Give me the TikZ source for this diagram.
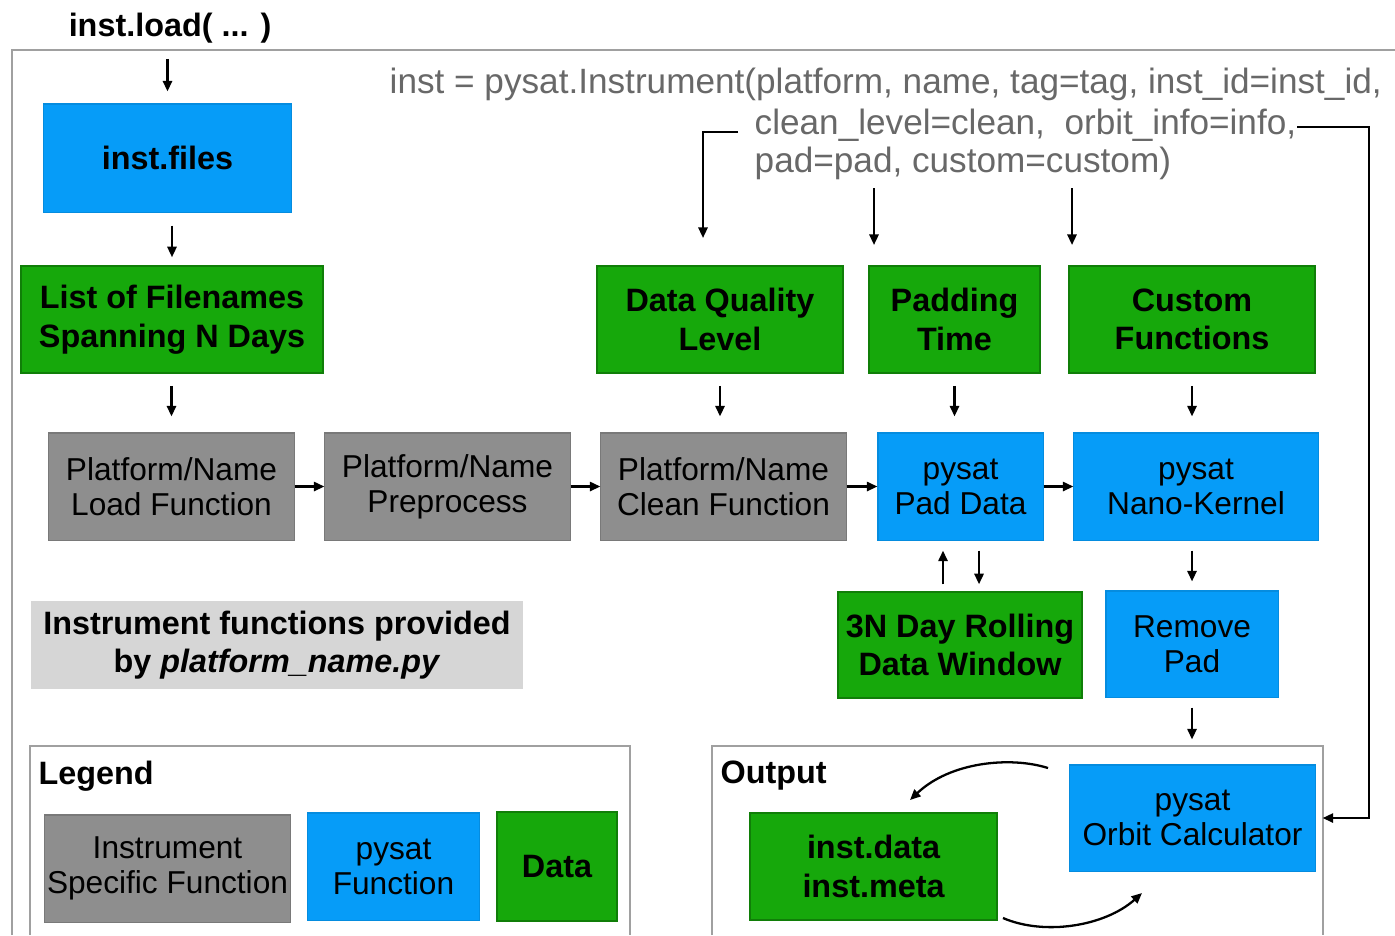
\documentclass[tikz,border=0pt]{standalone}
\usepackage{fontspec}
\setmainfont{Liberation Sans}
\usetikzlibrary{arrows.meta, positioning, calc}
\definecolor{pyblue}{HTML}{069CF8}
\definecolor{pygreen}{HTML}{16A80B}
\definecolor{pygray}{HTML}{8E8E8E}
\definecolor{pylightgray}{HTML}{D6D6D6}
\definecolor{pytext}{HTML}{686868}
\definecolor{pyframe}{HTML}{A0A0A0}

\begin{document}
\begin{tikzpicture}[x=0.01cm, y=-0.01cm,
        box/.style={rectangle, minimum height=1.07cm, inner sep=0pt,
                    align=center, font=\fontsize{9}{10}\selectfont},
        funcbox/.style={box, fill=pygray, draw=pygray!85!black,
                        line width=0.3pt},
        pybox/.style={box, fill=pyblue, draw=pyblue!90!black,
                      line width=0.3pt},
        databox/.style={box, fill=pygreen, draw=pygreen!75!black,
                        line width=0.4pt,
                        font=\fontsize{9.2}{11}\selectfont\bfseries},
        code/.style={anchor=west, inner sep=0pt, text=pytext,
                     font=\fontsize{10}{11}\selectfont},
        title/.style={anchor=west, inner sep=0pt,
                      font=\fontsize{9.2}{10}\selectfont\bfseries},
        frame/.style={draw=pyframe, line width=0.6pt},
        arr/.style={-{Triangle[length=3pt, width=2.6pt]},
                    line width=0.65pt, black}
      ]
        \useasboundingbox (0,0) rectangle (1395,935);
        % Outer frame
        \draw[frame] (12,935) -- (12,50) -- (1395,50);
        \node[title, anchor=center] (loadcall) at (170,28) {inst.load( ... )};
        % Instrument call
        \node[code] (call1) at (389,84)
          {inst = pysat.Instrument(platform, name, tag=tag, inst\_id=inst\_id,};
        \node[code] (call2) at (754,125)
          {clean\_level=clean,\ \ orbit\_info=info,};
        \node[code] (call3) at (754,163) {pad=pad, custom=custom)};
        % Left column
        \node[pybox, font=\fontsize{9.2}{10}\selectfont\bfseries,
              minimum width=2.47cm, minimum height=1.08cm] (files) at (167.5,158) {inst.files};
        \node[databox, minimum width=3.02cm] (names) at (172,319.5)
          {List of Filenames\\Spanning N Days};
        % Keyword data
        \node[databox, minimum width=2.46cm] (quality) at (720,319.5)
          {Data Quality\\Level};
        \node[databox, minimum width=1.71cm] (padtime) at (954.5,319.5)
          {Padding\\Time};
        \node[databox, minimum width=2.46cm] (custom) at (1192,319.5)
          {Custom\\Functions};
        % Processing chain
        \node[funcbox, minimum width=2.45cm] (load) at (171.5,486.5)
          {Platform/Name\\Load Function};
        \node[funcbox, minimum width=2.45cm] (prep) at (447.5,486.5)
          {Platform/Name\\Preprocess};
        \node[funcbox, minimum width=2.45cm] (clean) at (723.5,486.5)
          {Platform/Name\\Clean Function};
        \node[pybox, minimum width=1.65cm] (paddata) at (960.5,486.5)
          {pysat\\Pad Data};
        \node[pybox, minimum width=2.44cm] (nano) at (1196,486.5)
          {pysat\\Nano-Kernel};
        \node[databox, minimum width=2.44cm, minimum height=1.06cm] (rolling) at (960,645)
          {3N Day Rolling\\Data Window};
        \node[pybox, minimum width=1.72cm, minimum height=1.06cm] (remove) at (1192,644)
          {Remove\\Pad};
        \node[box, fill=pylightgray, minimum width=4.92cm, minimum height=0.88cm,
              font=\fontsize{9.2}{11}\selectfont\bfseries] (provided) at (277,645)
          {Instrument functions provided\\by \textit{platform\_name.py}};
        % Legend
        \draw[frame, line width=0.5pt] (30,935) -- (30,746) -- (630,746) -- (630,935);
        \node[title] (legend) at (38,776) {Legend};
        \node[funcbox, minimum width=2.45cm] (leggray) at (167.5,868.5)
          {Instrument\\Specific Function};
        \node[pybox, minimum width=1.71cm] (legblue) at (393.5,866.5)
          {pysat\\Function};
        \node[databox, minimum width=1.2cm, minimum height=1.09cm] (leggreen) at (557,866.5)
          {Data};
        % Output
        \draw[frame, line width=0.5pt] (712,935) -- (712,746) -- (1323,746) -- (1323,935);
        \node[title] (output) at (720,776) {Output};
        \node[pybox, minimum width=2.45cm, minimum height=1.06cm] (orbit) at (1192.5,818)
          {pysat\\Orbit Calculator};
        \node[databox, minimum width=2.47cm] (instdata) at (873.5,866.5)
          {inst.data\\inst.meta};
        % Connections: vertical flow
        \draw[arr, shorten <=0.15cm, shorten >=0.12cm] (loadcall.south -| files.north) -- (files.north);
        \draw[arr, shorten <=0.13cm, shorten >=0.08cm] (names.north |- files.south) -- (names.north);
        \draw[arr, shorten <=0.12cm, shorten >=0.16cm] (load.north |- names.south) -- (load.north);
        \draw[arr, shorten <=0.12cm, shorten >=0.16cm] (quality.south) -- (quality.south |- clean.north);
        \draw[arr, shorten <=0.12cm, shorten >=0.16cm] (padtime.south) -- (padtime.south |- paddata.north);
        \draw[arr, shorten <=0.12cm, shorten >=0.16cm] (custom.south) -- (custom.south |- nano.north);
        % Connections: processing chain
        \draw[arr] (load) -- (prep);
        \draw[arr] (prep) -- (clean);
        \draw[arr] (clean) -- (paddata);
        \draw[arr] (paddata) -- (nano);
        \draw[arr, shorten <=0.07cm, shorten >=0.1cm] ([xshift=-0.17cm]rolling.north) -- ([xshift=-0.17cm]rolling.north |- paddata.south);
        \draw[arr, shorten <=0.1cm, shorten >=0.07cm] ([xshift=0.19cm]rolling.north |- paddata.south) -- ([xshift=0.19cm]rolling.north);
        \draw[arr, shorten <=0.1cm, shorten >=0.09cm] (remove.north |- nano.south) -- (remove.north);
        \draw[arr, shorten <=0.1cm, shorten >=0.25cm] (remove.south) -- (remove.south |- orbit.north);
        % Keyword arrows
        \coordinate (qstart) at (738,132);
        \coordinate (qend) at (703,238);
        \draw[arr] (qstart) -| (qend);
        \coordinate (pstart) at (874,188);
        \coordinate (pend) at (874,245);
        \draw[arr] (pstart) -- (pend);
        \coordinate (cstart) at (1072,188);
        \coordinate (cend) at (1072,245);
        \draw[arr] (cstart) -- (cend);
        \coordinate (ostart) at (1297,127);
        \coordinate (oturn) at (1369,127);
        \draw[arr, shorten >=0.07cm] (ostart) -- (oturn) |- (orbit.east);
        % Output loop
        \coordinate (loopa) at (1048,768);
        \coordinate (loopb) at (910,800);
        \draw[arr] (loopa) .. controls (1010,756) and (950,762) .. (loopb);
        \coordinate (loopc) at (1003,918);
        \coordinate (loopd) at (1142,893);
        \draw[arr] (loopc) .. controls (1045,936) and (1105,926) .. (loopd);
      \end{tikzpicture}
\end{document}
